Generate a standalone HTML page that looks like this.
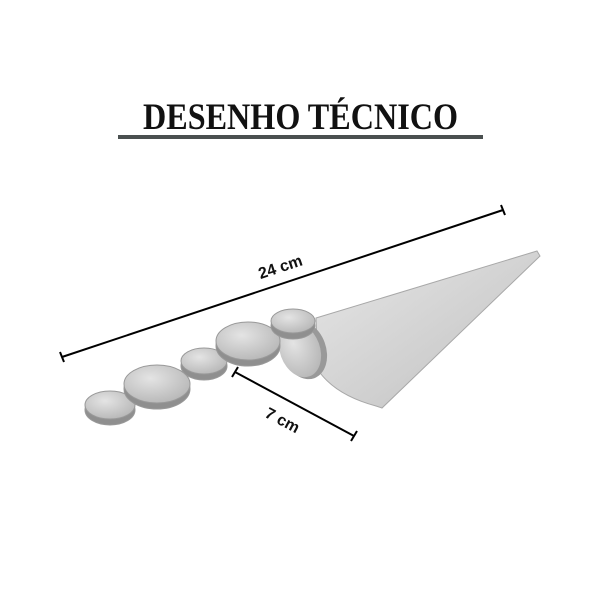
<!DOCTYPE html>
<html><head><meta charset="utf-8"><style>
body{margin:0;background:#fff;width:600px;height:600px;overflow:hidden}
</style></head><body>
<svg width="600" height="600" viewBox="0 0 600 600" xmlns="http://www.w3.org/2000/svg">
<defs>
<linearGradient id="tri" x1="0" y1="0" x2="1" y2="1">
<stop offset="0" stop-color="#e6e6e6"/><stop offset="0.6" stop-color="#cfcfcf"/><stop offset="1" stop-color="#b8b8b8"/>
</linearGradient>
<radialGradient id="disk" cx="0.4" cy="0.35" r="0.8">
<stop offset="0" stop-color="#e4e4e4"/><stop offset="1" stop-color="#b0b0b0"/>
</radialGradient>
</defs>
<text x="143" y="129" textLength="315" lengthAdjust="spacingAndGlyphs" font-family="Liberation Serif, serif" font-weight="bold" font-size="37" fill="#111">DESENHO TÉCNICO</text>
<rect x="118" y="135" width="365" height="4" fill="#4a5050"/>
<line x1="62" y1="357" x2="503" y2="210" stroke="#000" stroke-width="2"/>
<line x1="60" y1="352" x2="64" y2="362" stroke="#000" stroke-width="2"/>
<line x1="501" y1="205" x2="505" y2="215" stroke="#000" stroke-width="2"/>
<text x="282" y="272" text-anchor="middle" transform="rotate(-18.4 282 272)" font-family="Liberation Sans, sans-serif" font-weight="bold" font-size="16" fill="#111">24 cm</text>
<line x1="235" y1="372" x2="354" y2="436" stroke="#000" stroke-width="2"/>
<line x1="232" y1="377" x2="238" y2="367" stroke="#000" stroke-width="2"/>
<line x1="351" y1="441" x2="357" y2="431" stroke="#000" stroke-width="2"/>
<text x="280" y="425" text-anchor="middle" transform="rotate(28 280 425)" font-family="Liberation Sans, sans-serif" font-weight="bold" font-size="16" fill="#111">7 cm</text>
<path d="M316 318 L537 251 L540 256 L382 408 L376 406 Q335 395 318 370 Z" fill="url(#tri)" stroke="#a8a8a8" stroke-width="1"/>
<ellipse cx="304" cy="350" rx="22" ry="30" transform="rotate(-20 304 350)" fill="#999"/>
<ellipse cx="300" cy="350" rx="20" ry="28" transform="rotate(-20 300 350)" fill="url(#disk)"/>
<g stroke="#999" stroke-width="1">
<ellipse cx="110" cy="410" rx="25" ry="15" fill="#8f8f8f"/>
<ellipse cx="110" cy="405" rx="25" ry="14" fill="url(#disk)"/>
<ellipse cx="157" cy="389" rx="33" ry="20" fill="#8f8f8f"/>
<ellipse cx="157" cy="384" rx="33" ry="19" fill="url(#disk)"/>
<ellipse cx="204" cy="366" rx="23" ry="14" fill="#8f8f8f"/>
<ellipse cx="204" cy="361" rx="23" ry="13" fill="url(#disk)"/>
<ellipse cx="248" cy="346" rx="32" ry="20" fill="#8f8f8f"/>
<ellipse cx="248" cy="341" rx="32" ry="19" fill="url(#disk)"/>
<ellipse cx="293" cy="326" rx="22" ry="13" fill="#8f8f8f"/>
<ellipse cx="293" cy="321" rx="22" ry="12" fill="url(#disk)"/>
</g>
</svg>
</body></html>
